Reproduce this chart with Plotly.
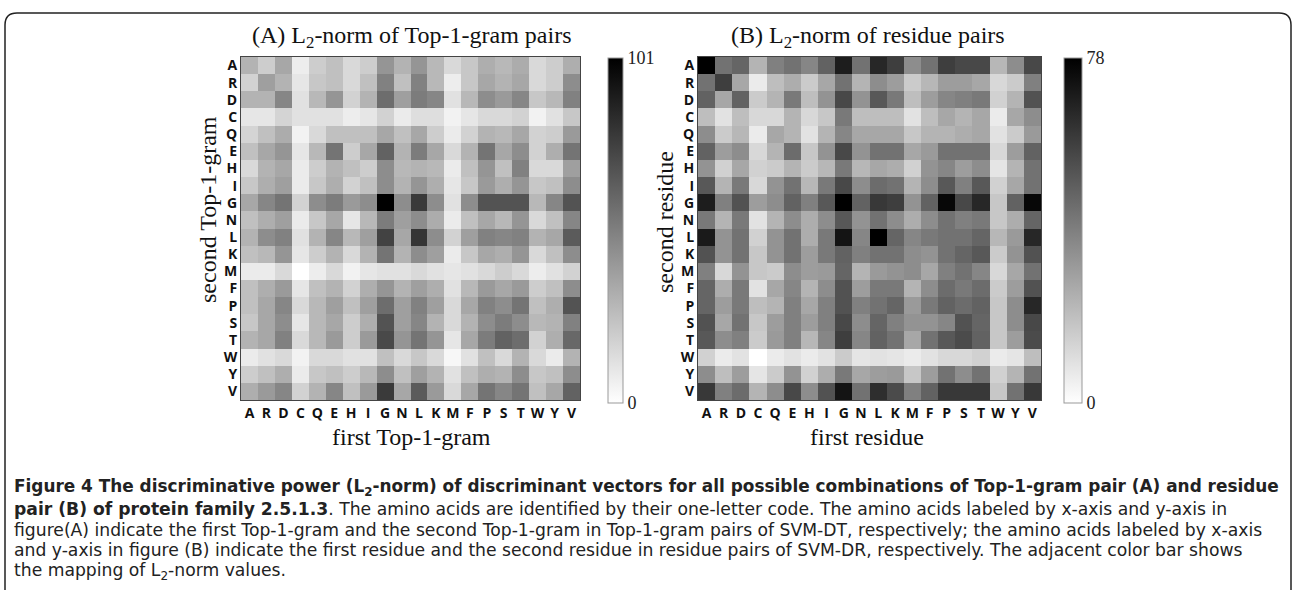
import plotly.graph_objects as go

# ---------------- data ----------------
amino_acids = ["A", "R", "D", "C", "Q", "E", "H", "I", "G", "N",
               "L", "K", "M", "F", "P", "S", "T", "W", "Y", "V"]

# (A) L2-norm of Top-1-gram pairs; rows = second Top-1-gram, cols = first Top-1-gram
l2_top1gram = [
    [30, 20, 35, 7, 20, 25, 15, 20, 42, 30, 42, 28, 15, 22, 32, 28, 33, 15, 20, 32],
    [18, 38, 30, 10, 22, 25, 15, 25, 50, 25, 50, 28, 7, 22, 35, 30, 35, 15, 20, 45],
    [30, 30, 48, 12, 28, 42, 18, 30, 58, 38, 52, 48, 12, 28, 45, 40, 48, 22, 28, 50],
    [10, 10, 17, 12, 12, 12, 7, 10, 18, 8, 13, 13, 5, 10, 15, 15, 18, 5, 12, 22],
    [17, 25, 33, 5, 15, 25, 25, 25, 35, 25, 35, 20, 8, 18, 30, 28, 35, 18, 20, 40],
    [25, 35, 42, 10, 28, 55, 20, 35, 62, 30, 52, 35, 15, 30, 55, 35, 45, 18, 32, 55],
    [15, 30, 35, 8, 20, 30, 25, 20, 45, 28, 30, 28, 8, 25, 42, 25, 50, 15, 15, 38],
    [22, 32, 38, 8, 22, 32, 18, 25, 45, 30, 42, 32, 10, 22, 40, 32, 42, 22, 25, 45],
    [35, 48, 55, 18, 45, 52, 40, 45, 101, 45, 78, 45, 12, 45, 68, 68, 68, 28, 48, 68],
    [25, 32, 38, 8, 22, 35, 10, 28, 52, 38, 45, 33, 8, 25, 35, 28, 42, 15, 25, 48],
    [30, 45, 50, 12, 30, 48, 28, 38, 75, 35, 80, 45, 18, 38, 50, 48, 50, 30, 35, 65],
    [25, 28, 42, 10, 20, 30, 15, 30, 55, 30, 45, 38, 8, 22, 35, 32, 42, 15, 25, 45],
    [8, 8, 15, 0, 7, 15, 5, 10, 12, 12, 15, 12, 10, 12, 15, 20, 15, 7, 12, 18],
    [25, 32, 40, 10, 25, 30, 18, 32, 42, 30, 38, 32, 12, 28, 40, 35, 40, 20, 25, 45],
    [25, 35, 48, 15, 28, 38, 25, 38, 58, 38, 50, 38, 15, 35, 50, 45, 55, 25, 32, 68],
    [22, 35, 45, 10, 28, 35, 20, 32, 68, 38, 48, 30, 15, 30, 45, 52, 45, 28, 30, 50],
    [30, 35, 50, 15, 28, 40, 20, 40, 72, 42, 55, 42, 10, 35, 52, 62, 58, 18, 32, 60],
    [8, 12, 15, 5, 15, 15, 12, 12, 25, 15, 22, 15, 3, 12, 25, 15, 30, 15, 8, 30],
    [20, 25, 32, 8, 22, 25, 20, 28, 45, 25, 38, 30, 12, 25, 32, 30, 45, 22, 25, 45],
    [32, 40, 48, 18, 30, 48, 25, 40, 78, 35, 65, 40, 15, 35, 55, 48, 55, 25, 35, 62],
]

# (B) L2-norm of residue pairs; rows = second residue, cols = first residue
l2_residue = [
    [78, 43, 47, 23, 39, 43, 37, 48, 69, 43, 66, 59, 35, 43, 59, 56, 56, 22, 35, 56],
    [43, 59, 27, 6, 20, 25, 16, 27, 43, 23, 35, 30, 16, 22, 30, 30, 27, 12, 16, 39],
    [48, 27, 48, 16, 23, 41, 20, 33, 56, 33, 51, 41, 20, 30, 37, 39, 41, 14, 23, 53],
    [20, 9, 20, 12, 12, 23, 12, 17, 41, 20, 20, 20, 9, 20, 27, 23, 27, 6, 27, 35],
    [35, 16, 22, 6, 27, 23, 9, 23, 37, 27, 27, 27, 17, 23, 23, 25, 27, 9, 16, 31],
    [48, 30, 35, 12, 23, 45, 17, 33, 56, 33, 43, 43, 27, 31, 43, 43, 43, 12, 30, 48],
    [33, 14, 27, 14, 16, 23, 16, 22, 41, 22, 27, 25, 14, 33, 37, 30, 35, 8, 23, 43],
    [51, 23, 41, 12, 33, 43, 22, 41, 56, 35, 45, 43, 23, 35, 51, 39, 51, 14, 27, 43],
    [69, 39, 53, 30, 35, 48, 39, 51, 78, 48, 61, 59, 33, 48, 76, 56, 66, 17, 48, 76],
    [41, 23, 41, 9, 23, 35, 25, 35, 51, 33, 43, 35, 25, 35, 43, 39, 41, 17, 25, 47],
    [70, 33, 43, 14, 33, 43, 25, 41, 72, 37, 78, 47, 37, 41, 43, 43, 47, 22, 31, 66],
    [53, 33, 43, 17, 33, 43, 30, 41, 48, 39, 43, 43, 35, 33, 43, 47, 51, 16, 33, 53],
    [39, 12, 33, 17, 16, 35, 30, 31, 47, 23, 31, 33, 35, 27, 39, 43, 37, 12, 27, 43],
    [47, 25, 41, 9, 27, 37, 23, 35, 53, 30, 41, 41, 23, 35, 45, 41, 45, 16, 30, 53],
    [47, 30, 41, 20, 23, 39, 27, 39, 53, 39, 43, 47, 31, 41, 48, 45, 48, 17, 35, 66],
    [53, 27, 43, 17, 30, 39, 30, 39, 56, 35, 47, 39, 33, 33, 37, 53, 47, 17, 35, 56],
    [51, 35, 39, 16, 31, 39, 22, 37, 59, 37, 48, 43, 27, 43, 51, 55, 48, 17, 30, 55],
    [14, 6, 9, 0, 6, 9, 6, 9, 16, 8, 9, 8, 6, 9, 12, 12, 14, 6, 8, 20],
    [35, 20, 30, 8, 16, 33, 14, 25, 41, 27, 30, 31, 17, 30, 43, 35, 43, 14, 23, 43],
    [61, 39, 45, 23, 35, 56, 35, 53, 72, 43, 64, 55, 39, 48, 61, 61, 61, 17, 43, 61],
]

max_top1gram = 101
max_residue = 78

caption_lines = [
    "<b>Figure 4 The discriminative power (L<sub>2</sub>-norm) of discriminant vectors for all possible combinations of Top-1-gram pair (A) and residue</b>",
    "<b>pair (B) of protein family 2.5.1.3</b>. The amino acids are identified by their one-letter code. The amino acids labeled by x-axis and y-axis in",
    "figure(A) indicate the first Top-1-gram and the second Top-1-gram in Top-1-gram pairs of SVM-DT, respectively; the amino acids labeled by x-axis",
    "and y-axis in figure (B) indicate the first residue and the second residue in residue pairs of SVM-DR, respectively. The adjacent color bar shows",
    "the mapping of L<sub>2</sub>-norm values.",
]

# ---------------- layout helpers ----------------
W, H = 1293, 590
def px(x):
    return x / W
def py(y):
    return 1 - y / H

grey = [[0, "#ffffff"], [1, "#000000"]]
serif = "Liberation Serif"
tickfont = dict(family="Open Sans", size=14, color="#111", weight=700)
cbfont = dict(family=serif, size=18, color="#222")

fig = go.Figure()

fig.add_trace(go.Heatmap(
    z=l2_top1gram, x=amino_acids, y=amino_acids,
    colorscale=grey, zmin=0, zmax=max_top1gram,
    xaxis="x", yaxis="y",
    colorbar=dict(x=px(608), xanchor="left", y=py(230), yanchor="middle",
                  len=345 / H, lenmode="fraction", thickness=15, thicknessmode="pixels",
                  outlinewidth=1, outlinecolor="#999", xpad=0, ypad=0,
                  tickvals=[0, max_top1gram], ticktext=["0", str(max_top1gram)],
                  ticks="", tickfont=cbfont),
))
fig.add_trace(go.Heatmap(
    z=l2_residue, x=amino_acids, y=amino_acids,
    colorscale=grey, zmin=0, zmax=max_residue,
    xaxis="x2", yaxis="y2",
    colorbar=dict(x=px(1064), xanchor="left", y=py(230), yanchor="middle",
                  len=345 / H, lenmode="fraction", thickness=18, thicknessmode="pixels",
                  outlinewidth=1, outlinecolor="#999", xpad=0, ypad=0,
                  tickvals=[0, max_residue], ticktext=["0", str(max_residue)],
                  ticks="", tickfont=cbfont),
))

axis_common = dict(showgrid=False, zeroline=False, showline=True, mirror=True,
                   linecolor="#444", linewidth=1, ticks="", tickfont=tickfont,
                   fixedrange=True, tickangle=0, tickmode="array",
                   tickvals=amino_acids, ticktext=amino_acids)

fig.update_layout(
    width=W, height=H,
    margin=dict(l=0, r=0, t=0, b=0, autoexpand=False),
    paper_bgcolor="white", plot_bgcolor="white",
    showlegend=False,
    xaxis=dict(domain=[px(241), px(580)], anchor="y", **axis_common),
    yaxis=dict(domain=[py(400), py(57)], anchor="x", autorange="reversed", **axis_common),
    xaxis2=dict(domain=[px(698), px(1041)], anchor="y2", **axis_common),
    yaxis2=dict(domain=[py(400), py(57)], anchor="x2", autorange="reversed", **axis_common),
)

annotations = [
    dict(text="(A) L<sub>2</sub>-norm of Top-1-gram pairs", x=px(412), y=py(37)),
    dict(text="(B) L<sub>2</sub>-norm of residue pairs", x=px(868), y=py(37)),
    dict(text="first Top-1-gram", x=px(411), y=py(437)),
    dict(text="first residue", x=px(867), y=py(437)),
    dict(text="second Top-1-gram", x=px(208), y=py(210), textangle=-90),
    dict(text="second residue", x=px(665), y=py(222), textangle=-90),
]
for a in annotations:
    fig.add_annotation(xref="paper", yref="paper", showarrow=False,
                       xanchor="center", yanchor="middle",
                       font=dict(family=serif, size=24, color="#111"), **a)

cap_y = [487, 509, 530, 550, 571]
cap_size = [16.9, 17.2, 17.2, 17.2, 17.2]
for line, yy, fs in zip(caption_lines, cap_y, cap_size):
    fig.add_annotation(xref="paper", yref="paper", showarrow=False,
                       x=px(12), y=py(yy), xanchor="left", yanchor="middle",
                       align="left", text=line,
                       font=dict(family="DejaVu Sans", size=fs, color="#222"))

# rounded frame around the figure (open at the bottom)
x0, x1, yt, yb = px(5), px(1291), py(13), py(600)
rx, ry = 12 / W, 12 / H
path = (f"M {x0},{yb} L {x0},{yt - ry} Q {x0},{yt} {x0 + rx},{yt} "
        f"L {x1 - rx},{yt} Q {x1},{yt} {x1},{yt - ry} L {x1},{yb}")
fig.add_shape(type="path", path=path, xref="paper", yref="paper",
              line=dict(color="#222", width=1.5))

fig.write_html("out.html")
